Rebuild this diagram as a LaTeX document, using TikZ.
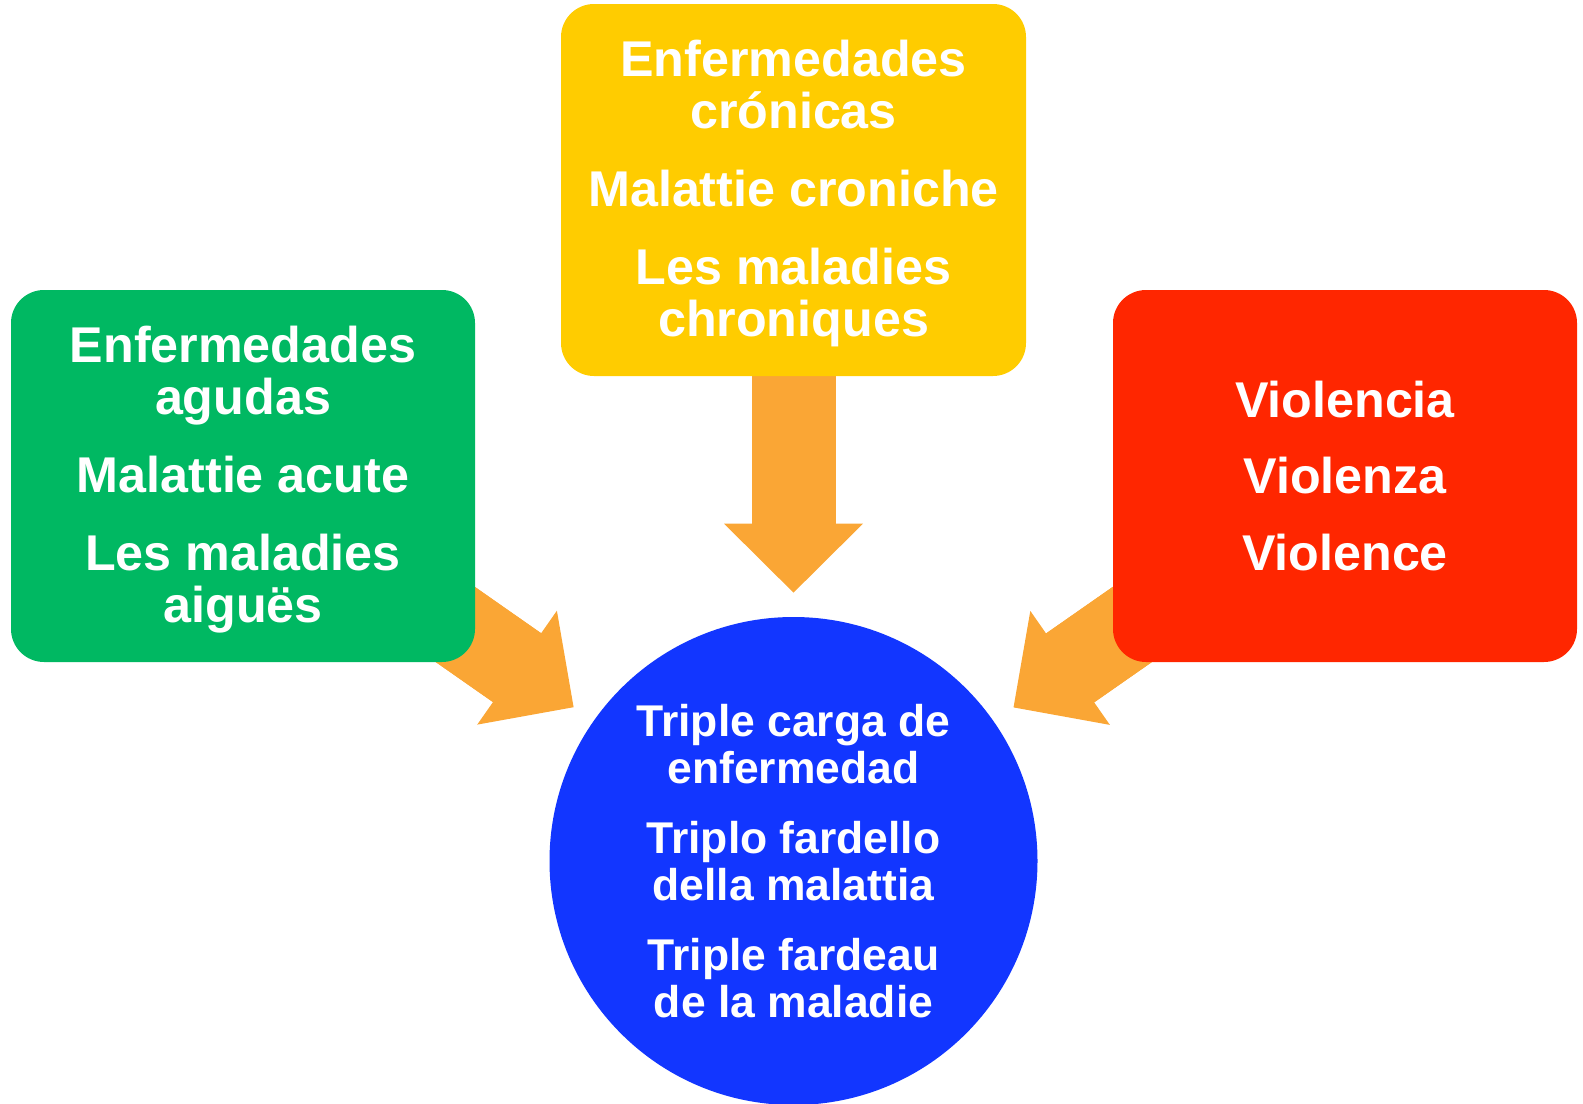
\documentclass[tikz,border=0pt]{standalone}
\usepackage{fontspec}
\setmainfont{Liberation Sans}
\usetikzlibrary{arrows.meta,backgrounds}

\definecolor{jaune}{HTML}{FFCC00}
\definecolor{vert}{HTML}{00B862}
\definecolor{rouge}{HTML}{FF2600}
\definecolor{bleu}{HTML}{1236FF}
\definecolor{ocre}{HTML}{FAA635}

\begin{document}
\begin{tikzpicture}
			\tikzset{boite/.style={rectangle, rounded corners=0.66cm, minimum width=9.28cm, minimum height=7.44cm, inner sep=0pt, text=white, align=center, font=\bfseries\fontsize{28.6pt}{29.8pt}\selectfont},
			fleche/.style={draw=ocre, line width=1.68cm, -{Triangle[width=2.78cm, length=1.38cm, line width=0pt]}, shorten >=0.48cm,
				postaction={draw=ocre, line width=1.68cm, -, shorten >=1.4cm}}};

			\useasboundingbox (0,0) rectangle (31.66,-22.08);

			\node[boite, fill=jaune, minimum width=9.30cm] (chron) at (15.87,-3.80) {\rule{0pt}{25pt}Enfermedades\\crónicas\\[14.5pt]Malattie croniche\\[14.5pt]Les maladies\\chroniques};
			\node[boite, fill=vert ] (aigu)  at ( 4.86,-9.52) {\rule{0pt}{25pt}Enfermedades\\agudas\\[14.5pt]Malattie acute\\[14.5pt]Les maladies\\aiguës};
			\node[boite, fill=rouge] (viol)  at (26.90,-9.52) {Violencia\\[14pt]Violenza\\[14pt]Violence};

			\node[circle, fill=bleu, minimum size=9.76cm, inner sep=0pt, text=white, align=center, font=\bfseries\fontsize{25.3pt}{27pt}\selectfont] (triple) at (15.87,-17.22) {Triple carga de\\enfermedad\\[12.5pt]Triplo fardello\\della malattia\\[12.5pt]Triple fardeau\\de la maladie};

			\begin{scope}[on background layer]
				\draw[fleche] (chron.center) -- (triple);
				\draw[fleche] (aigu.center)  -- (triple);
				\draw[fleche] (viol.center)  -- (triple);
			\end{scope}

		\end{tikzpicture}
\end{document}
